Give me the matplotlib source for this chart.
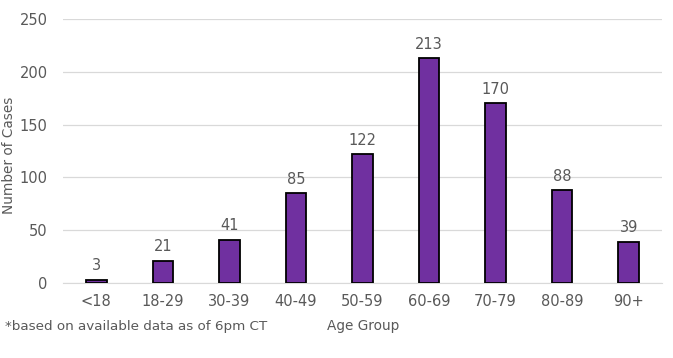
import matplotlib.pyplot as plt

groups = ['<18', '18-29', '30-39', '40-49', '50-59', '60-69', '70-79', '80-89', '90+']
cases = [3, 21, 41, 85, 122, 213, 170, 88, 39]

grey = '#595959'
plt.rcParams['font.family'] = ['DejaVu Sans']

fig = plt.figure(figsize=(6.73, 3.58), dpi=100)
ax = fig.add_axes([0.0936, 0.2095, 0.89, 0.7375])

ax.bar(range(len(groups)), cases, width=0.31, color='#7030A0',
       edgecolor='black', linewidth=1.3, zorder=3)
for i, v in enumerate(cases):
    ax.text(i, v + 6, str(v), ha='center', va='bottom', fontsize=10.5, color=grey)

ax.set_xlim(-0.5, len(groups) - 0.5)
ax.set_ylim(0, 250)
ax.set_yticks(range(0, 251, 50))
ax.set_xticks(range(len(groups)))
ax.set_xticklabels(groups)
ax.grid(axis='y', color='#d9d9d9', linewidth=0.9, zorder=0)
for s in ['top', 'right', 'left']:
    ax.spines[s].set_visible(False)
ax.spines['bottom'].set_color('#d9d9d9')
ax.tick_params(length=0, labelsize=10.5, colors=grey)
ax.tick_params(axis='x', pad=8)
ax.tick_params(axis='y', pad=11)

fig.text(0.54, 0.089, 'Age Group', ha='center', va='center', fontsize=9.8, color=grey)
fig.text(0.013, 0.567, 'Number of Cases', rotation=90, ha='center', va='center',
         fontsize=9.8, color=grey)
fig.text(0.007, 0.087, '*based on available data as of 6pm CT', va='center',
         fontsize=9.7, color=grey)

fig.savefig('out.png', dpi=100)
